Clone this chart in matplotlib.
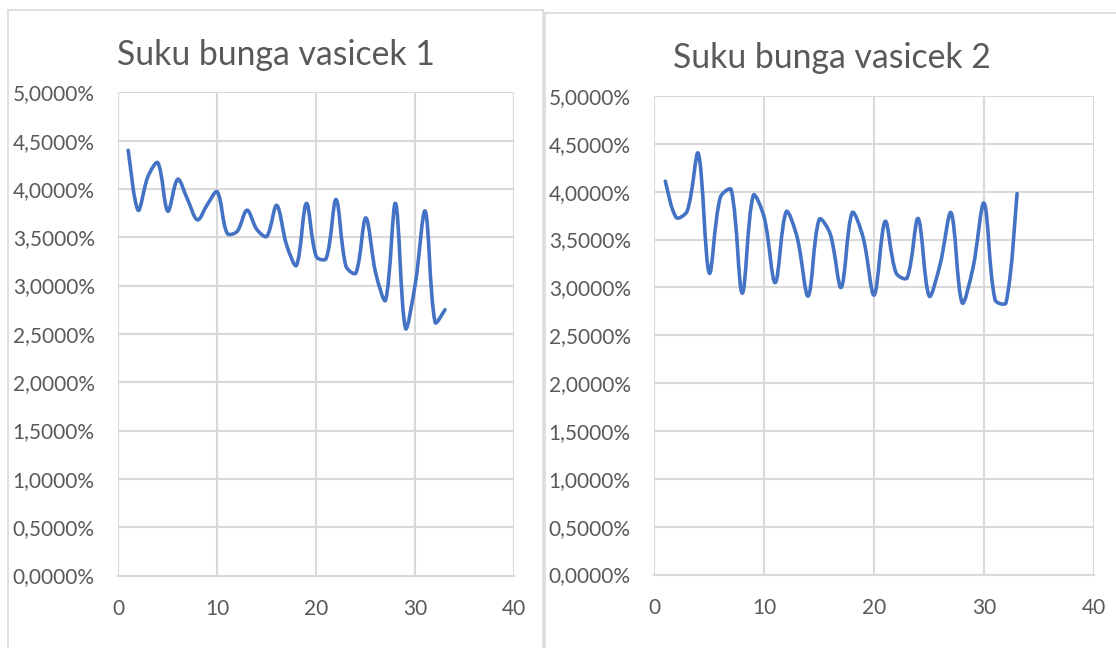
import numpy as np
import matplotlib.pyplot as plt
from matplotlib.path import Path
from matplotlib.patches import PathPatch, Rectangle
from matplotlib.ticker import FuncFormatter

plt.rcParams["font.family"] = ["Lato", "DejaVu Sans"]

# periode 1..33, suku bunga dalam persen
periode = np.arange(1, 34)
vasicek_1 = [4.40, 3.78, 4.13, 4.27, 3.77, 4.10, 3.89, 3.68, 3.84, 3.97,
             3.54, 3.56, 3.78, 3.58, 3.51, 3.83, 3.42, 3.21, 3.85, 3.30,
             3.28, 3.89, 3.20, 3.13, 3.70, 3.13, 2.85, 3.85, 2.56, 3.02,
             3.77, 2.62, 2.75]
vasicek_2 = [4.11, 3.73, 3.80, 4.40, 3.15, 3.94, 4.02, 2.94, 3.96, 3.73,
             3.05, 3.79, 3.52, 2.91, 3.71, 3.56, 3.00, 3.78, 3.52, 2.92,
             3.69, 3.15, 3.10, 3.72, 2.91, 3.24, 3.78, 2.84, 3.21, 3.88,
             2.87, 2.84, 3.98]
judul = ["Suku bunga vasicek 1", "Suku bunga vasicek 2"]
x_ticks = [0, 10, 20, 30, 40]
y_ticks = [0, 0.5, 1.0, 1.5, 2.0, 2.5, 3.0, 3.5, 4.0, 4.5, 5.0]

W, H = 1116, 648
grey = "#d9d9d9"
text_c = "#595959"
blue = "#4472C4"


def smooth_path(ax, x, y):
    # excel-like smoothed line: bezier segments, handles scaled by
    # neighbouring segment lengths measured on screen
    d = np.column_stack([x, y]).astype(float)
    p = ax.transData.transform(d)
    n = len(p)
    seg = np.hypot(*np.diff(p, axis=0).T)
    verts = [p[0]]
    codes = [Path.MOVETO]
    for i in range(n - 1):
        a = p[max(i - 1, 0)]
        b = p[min(i + 2, n - 1)]
        l_prev = seg[i - 1] if i > 0 else seg[i]
        l_next = seg[i + 1] if i + 2 < n else seg[i]
        c1 = p[i] + (p[i + 1] - a) * seg[i] / (l_prev + seg[i]) / 3
        c2 = p[i + 1] - (b - p[i]) * seg[i] / (seg[i] + l_next) / 3
        verts += [c1, c2, p[i + 1]]
        codes += [Path.CURVE4] * 3
    verts = ax.transData.inverted().transform(np.array(verts))
    return Path(verts, codes)


def fx(px):
    return px / W


def fy(py):
    return 1 - py / H


fig = plt.figure(figsize=(W / 100, H / 100), dpi=100)

# chart frames
fig.add_artist(Rectangle((fx(7.5), fy(700)), fx(543 - 7.5), fy(9.5) - fy(700),
                         transform=fig.transFigure, fill=False, ec=grey, lw=1.2))
fig.add_artist(Rectangle((fx(545), fy(700)), fx(1200 - 545), fy(12.5) - fy(700),
                         transform=fig.transFigure, fill=False, ec=grey, lw=1.2))

boxes = [(118.3, 92.3, 514.3, 575.5), (654.3, 96.0, 1094.0, 574.5)]
title_pos = [(276, 55), (832, 58)]
series = [vasicek_1, vasicek_2]

for k in range(2):
    l, t, r, b = boxes[k]
    ax = fig.add_axes([fx(l), fy(b), fx(r - l), fy(t) - fy(b)])
    ax.set_xlim(0, 40)
    ax.set_ylim(0, 5)
    ax.set_xticks(x_ticks)
    ax.set_yticks(y_ticks)
    ax.yaxis.set_major_formatter(FuncFormatter(lambda v, pos: f"{v:.4f}%".replace(".", ",")))
    ax.grid(True, color=grey, lw=1.5)
    ax.set_axisbelow(True)
    for s in ax.spines.values():
        s.set_visible(False)
    ax.spines["bottom"].set_visible(True)
    ax.spines["bottom"].set_color(grey)
    ax.spines["bottom"].set_linewidth(1.5)
    ax.tick_params(length=0, labelsize=15, labelcolor=text_c)
    ax.tick_params(axis="y", pad=17)
    ax.tick_params(axis="x", pad=17)
    ax.add_patch(PathPatch(smooth_path(ax, periode, series[k]), fill=False,
                           ec=blue, lw=2.6, capstyle="round", joinstyle="round"))
    fig.text(fx(title_pos[k][0]), fy(title_pos[k][1]), judul[k], ha="center",
             va="center", fontsize=24.3, color=text_c)

fig.savefig("out.png", dpi=100)
